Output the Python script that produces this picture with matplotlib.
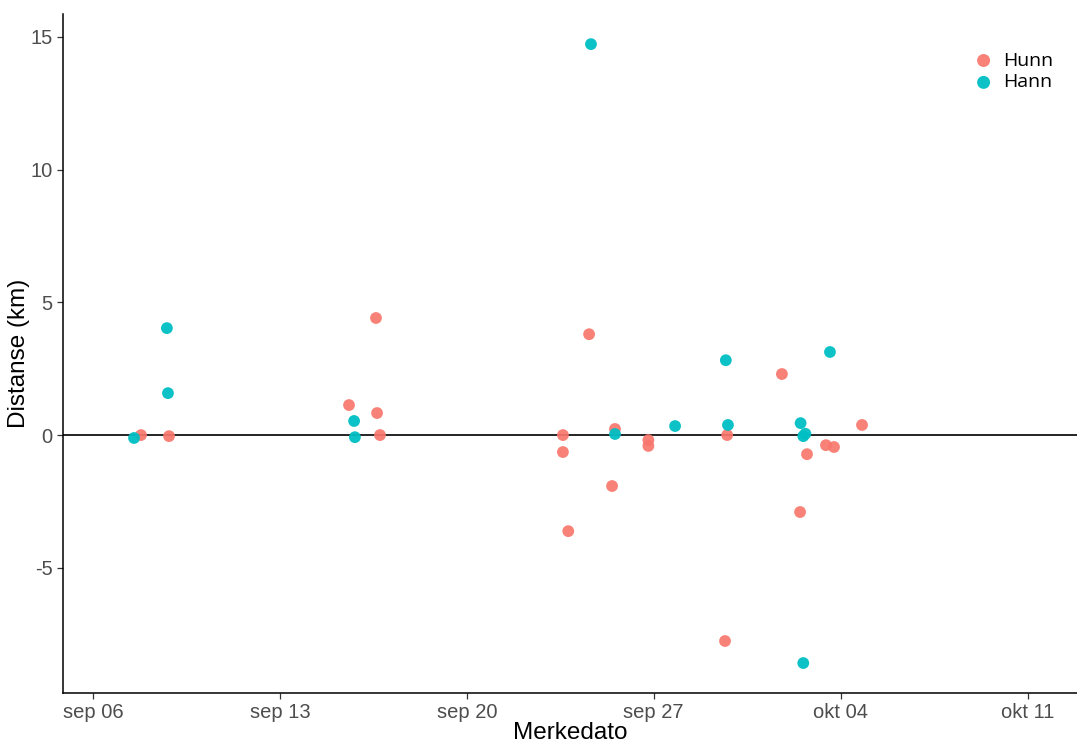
import numpy as np
import pandas as pd
import matplotlib
matplotlib.use("Agg")
import matplotlib.pyplot as plt
import matplotlib.dates as mdates

plt.rcParams['font.family'] = ['Liberation Sans', 'DejaVu Sans']
plt.rcParams['axes.unicode_minus'] = False

base = pd.Timestamp("2020-09-06")

# days after sep 06, distance in km
hunn_days = [1.8, 2.85, 9.59, 10.6, 10.64, 10.75, 17.6, 17.6, 17.8, 18.58, 19.55,
             19.44, 20.8, 20.8, 23.67, 23.75, 25.8, 26.48, 26.74, 27.45, 27.75, 28.8]
hunn_dist = [0.0, -0.04, 1.13, 4.41, 0.83, 0.0, 0.0, -0.64, -3.62, 3.80, 0.23,
             -1.92, -0.19, -0.41, -7.76, 0.0, 2.30, -2.9, -0.72, -0.38, -0.45, 0.38]

hann_days = [1.54, 2.77, 2.81, 9.78, 9.81, 18.65, 19.55, 21.8, 23.7, 23.78,
             26.5, 26.6, 26.68, 26.6, 27.6]
hann_dist = [-0.11, 4.03, 1.58, 0.53, -0.08, 14.73, 0.04, 0.34, 2.82, 0.38,
             0.45, -0.04, 0.05, -8.59, 3.13]

tick_days = [0, 7, 14, 21, 28, 35]
tick_labels = ["sep 06", "sep 13", "sep 20", "sep 27", "okt 04", "okt 11"]

to_dates = lambda d: base + pd.to_timedelta(d, unit="D")

fig = plt.figure(figsize=(10.77, 7.44), dpi=100)
ax = fig.add_axes([0.0585, 0.0685, 0.9415, 0.9125])

ax.axhline(0, color="black", lw=1.2, zorder=1)
ax.scatter(to_dates(hunn_days), hunn_dist, s=72, color="#F8766D", alpha=0.92,
           edgecolors="none", label="Hunn", zorder=2)
ax.scatter(to_dates(hann_days), hann_dist, s=72, color="#00BFC4", alpha=0.95,
           edgecolors="none", label="Hann", zorder=3)

ax.set_xlim(to_dates(-1.12), to_dates(36.85))
ax.set_ylim(-9.72, 15.86)
ax.set_xticks(to_dates(tick_days))
ax.set_xticklabels(tick_labels)
ax.set_yticks([-5, 0, 5, 10, 15])

for s in ["top", "right"]:
    ax.spines[s].set_visible(False)
for s in ["left", "bottom"]:
    ax.spines[s].set_color("black")
    ax.spines[s].set_linewidth(1.1)
ax.tick_params(colors="#333333", labelcolor="#4D4D4D", labelsize=14.5, length=4, width=0.9)

ax.set_xlabel("Merkedato", fontsize=17.5, labelpad=0)
ax.set_ylabel("Distanse (km)", fontsize=17.5, labelpad=0)

leg = ax.legend(loc="upper right", bbox_to_anchor=(0.988, 0.962), frameon=False,
                handletextpad=0.0, labelspacing=0.2, borderaxespad=0.2,
                prop={"family": "Open Sans", "size": 14}, markerscale=1.1)

fig.savefig("out.png", dpi=100)
